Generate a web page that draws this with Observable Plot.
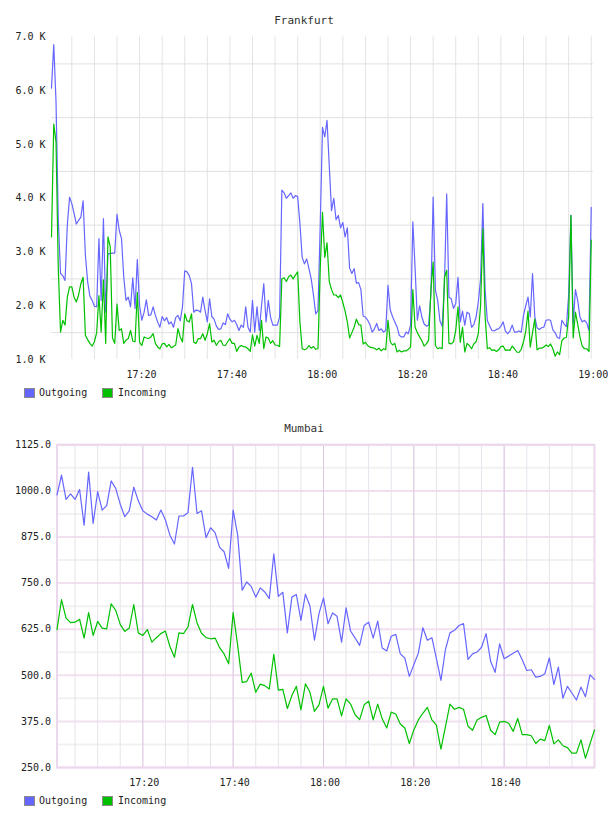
<!DOCTYPE html>
<html>
<head>
<meta charset="utf-8">
<script src="https://cdn.jsdelivr.net/npm/d3@7"></script>
<script src="https://cdn.jsdelivr.net/npm/@observablehq/plot@0.6"></script>
<style>
html, body { margin: 0; padding: 0; background: #fff; overflow: hidden; }
#page { position: relative; width: 608px; height: 816px; overflow: hidden; font-family: "DejaVu Sans Mono", monospace; }
.title { position: absolute; left: 0; width: 608px; text-align: center; font-size: 11px; line-height: 14px; color: #333; }
.chart { position: absolute; left: 0; }
.sw { position: absolute; width: 11px; height: 10px; box-sizing: border-box; border: 1px solid #8a8a8a; }
.lt { position: absolute; font-size: 10px; line-height: 12px; color: #222; }
</style>
</head>
<body>
<div id="page">
  <div class="title" style="top:14px">Frankfurt</div>
  <div class="chart" id="c1" style="top:30px"></div>
  <div id="leg1"></div>
  <div class="title" style="top:422px">Mumbai</div>
  <div class="chart" id="c2" style="top:436px"></div>
  <div id="leg2"></div>
</div>
<script>
// ---------- DATA ----------
const seriesNames = ["Outgoing", "Incoming"];
const seriesColors = ["#6666ff", "#00c000"];

// Frankfurt: samples every 30 s starting 17:00:30
const fraStart = [17, 0, 30];
const fraStepSeconds = 30;
const fraOut = [
6050,6860,5800,3600,2600,2560,2470,3500,4020,3900,
3720,3520,3590,3650,3950,2950,2450,2180,2100,1990,
1980,3250,2100,3620,1880,2970,2970,2980,2980,3700,
3400,3250,2530,2100,2160,1980,2520,1950,2860,2000,
1730,1880,2110,1820,1830,1980,1820,1700,1600,1800,
1720,1780,1660,1700,1600,1780,1820,1720,1980,2650,
2630,2560,2410,1880,1920,1910,1880,2160,1910,1700,
2130,1800,1750,1620,1560,1570,1680,1650,1850,1750,
1700,
1730,1650,1540,1640,1600,1980,1600,1510,2100,1510,
1980,1540,2000,2410,1700,2100,1790,1640,1640,1640,
1790,4150,4100,4000,4050,4100,4000,4050,4030,3530,
2900,2780,2870,2690,2500,2200,1850,1910,3500,5320,
5140,5450,4600,3770,4000,3600,3680,3450,3550,3280,
3450,2700,2600,2690,2420,2430,2300,1810,1790,1730,
1650,1510,1570,1670,1540,1570,1510,1540,2380,1920,
1800,1700,1610,1450,1420,1420,1510,1480,1640,
3560,2700,1730,2000,1790,1660,1620,1640,2200,4020,
2290,2100,1720,1620,2400,4080,2160,2130,1950,2040,
2530,1700,1900,1640,1880,1850,1600,1650,1790,2070,
2500,3900,2300,1720,1630,1540,1530,1560,1570,1620,
1700,1530,1480,1530,1640,1510,1510,1530,1510,1820,
2000,2160,1790,2600,1800,1590,1560,1590,1600,1730,
1740,1730,1550,1500,1410,1390,1730,1660,1610,2200,
3680,1670,2300,2100,1790,1700,1730,1680,1540,3830
];
const fraIn = [
3280,5380,5050,2700,1510,1730,1640,2160,2350,2350,
2160,2070,2200,2410,2530,1450,1370,1300,1250,1330,
1500,2190,1510,2480,1300,3280,3100,1400,1300,2030,
1540,1570,1300,1360,1390,1540,1340,1330,2250,1320,
1260,1420,1400,1390,1420,1480,1300,1234,1200,1290,
1300,1234,1280,1220,1240,1270,1574,1420,1326,1850,
1720,1700,1850,1320,1300,1390,1390,1480,1357,1480,
1667,1326,1357,1265,1330,1357,1265,1260,1330,1388,
1300,
1300,1150,1230,1260,1240,1234,1200,1150,1460,1250,
1450,1300,1730,1200,1420,1400,1300,1350,1270,1265,
1240,2500,2520,2450,2540,2570,2500,2570,2630,1700,
1200,1180,1200,1260,1210,1240,1190,1200,2700,3740,
2900,3170,2450,2300,2200,2200,2150,2200,2060,1900,
1700,1400,1500,1600,1750,1650,1640,1290,1320,1260,
1230,1220,1210,1180,1210,1160,1200,1180,1730,1330,
1270,1300,1140,1170,1140,1160,1160,1190,1230,
2300,1600,1500,1420,1350,1250,1290,1360,2300,2810,
1260,1200,1220,1200,2530,2660,1300,1290,1330,1540,
1980,1320,1600,1140,1300,1260,1200,1290,1330,1480,
2000,3430,1800,1200,1220,1170,1180,1150,1180,1240,
1250,1170,1180,1170,1250,1200,1140,1130,1190,1330,
1520,1900,1230,1500,1750,1180,1210,1210,1230,1270,
1240,1290,1200,1060,1140,1090,1350,1400,1410,1800,
3680,1400,1880,1660,1420,1250,1200,1200,1150,3220
];
const fraYTicks = [1000, 2000, 3000, 4000, 5000, 6000, 7000];
const fraYGrid = [1500, 2500, 3500, 4500, 5500, 6500];
const fraXTickLabels = ["17:20", "17:40", "18:00", "18:20", "18:40", "19:00"];

// Mumbai: one sample per minute starting 17:01
const mumStart = [17, 1, 0];
const mumStepSeconds = 60;
const mumOut = [
989,1043,977,992,977,1004,907,1051,912,998,
948,960,1027,1007,964,930,946,1010,973,946,
937,930,921,948,921,880,856,932,932,941,
1064,939,946,873,900,887,847,835,790,948,
880,731,753,741,712,737,726,708,829,714,
725,615,712,719,649,720,688,595,667,710,640,
669,660,590,683,620,601,581,635,644,601,
647,574,566,606,611,558,547,497,529,560,
629,595,602,545,486,570,615,622,635,640,
543,558,563,576,613,538,508,585,545,552,
560,567,542,513,515,495,497,504,547,475,
522,438,470,452,433,468,442,501,489
];
const mumIn = [
624,705,655,643,644,652,601,670,608,646,
628,626,694,676,638,619,628,692,615,608,
624,590,602,613,620,578,549,615,613,631,
692,642,614,602,599,601,575,558,531,670,
581,481,483,506,454,476,472,463,557,460,
462,410,445,470,406,477,454,402,420,470,411,
436,436,390,436,422,393,380,420,430,379,
422,382,357,400,395,368,357,315,352,379,
397,413,379,365,300,361,422,408,413,408,
362,351,379,386,391,351,339,373,375,370,
348,383,339,339,336,315,327,323,364,314,
325,309,304,289,289,325,275,314,352
];
const mumYTicks = [250, 375, 500, 625, 750, 875, 1000, 1125];
const mumYHalf = [312.5, 437.5, 562.5, 687.5, 812.5, 937.5, 1062.5];
const mumXTickLabels = ["17:20", "17:40", "18:00", "18:20", "18:40"];

// ---------- HELPERS ----------
const at = (h, m, s = 0) => new Date(2020, 0, 1, h, m, s);
const fromLabel = l => { const [h, m] = l.split(":").map(Number); return at(h, m); };
const fmt = d3.timeFormat("%H:%M");
function series(start, step, a, b) {
  const t0 = at(...start);
  return a.map((v, i) => ({ t: new Date(+t0 + i * step * 1000), out: v, inc: b[i] }));
}
function everyFive(from, to) {
  const r = []; for (let d = +from; d <= +to; d += 5 * 60000) r.push(new Date(d)); return r;
}
const font = { fontFamily: "'DejaVu Sans Mono', monospace", fontSize: "10px", color: "#222", background: "white", overflow: "visible" };

// ---------- FRANKFURT ----------
const fra = series(fraStart, fraStepSeconds, fraOut, fraIn);
const fraDomain = [at(17, 0, 30), at(19, 0, 30)];
const chart1 = Plot.plot({
  width: 608, height: 356,
  marginTop: 6.5, marginBottom: 27, marginLeft: 51, marginRight: 15,
  style: font,
  x: { type: "time", domain: fraDomain },
  y: { domain: [1000, 7000] },
  marks: [
    Plot.ruleX(everyFive(at(17, 5), at(19, 0)), { stroke: "#e3e3e3", strokeWidth: 1 }),
    Plot.ruleY(fraYGrid, { stroke: "#e0e0e0", strokeWidth: 1 }),
    Plot.axisY({ ticks: fraYTicks, tickSize: 0, tickPadding: 6, tickFormat: d => (d / 1000).toFixed(1) + " K", label: null }),
    Plot.axisX({ ticks: fraXTickLabels.map(fromLabel), tickSize: 0, tickPadding: 11.5, dx: 2, tickFormat: fmt, label: null }),
    Plot.line(fra, { x: "t", y: "out", stroke: seriesColors[0], strokeWidth: 1.2 }),
    Plot.line(fra, { x: "t", y: "inc", stroke: seriesColors[1], strokeWidth: 1.2 })
  ]
});
document.getElementById("c1").appendChild(chart1);

// ---------- MUMBAI ----------
const mum = series(mumStart, mumStepSeconds, mumOut, mumIn);
const mumDomain = [at(17, 1), at(19, 0)];
const chart2 = Plot.plot({
  width: 608, height: 358,
  marginTop: 8.3, marginBottom: 27, marginLeft: 56.5, marginRight: 14,
  style: font,
  x: { type: "time", domain: mumDomain },
  y: { domain: [250, 1125] },
  marks: [
    Plot.ruleY(mumYHalf, { stroke: "#f1f1f1", strokeWidth: 2 }),
    Plot.ruleY(mumYTicks, { stroke: "#f0e0f0", strokeWidth: 2 }),
    Plot.ruleX(everyFive(at(17, 5), at(18, 55)), { stroke: "#e9e1ec", strokeWidth: 1 }),
    Plot.ruleX(mumXTickLabels.map(fromLabel), { stroke: "#dfc6e3", strokeWidth: 1 }),
    Plot.frame({ stroke: "#ecd8ec", strokeWidth: 2 }),
    Plot.axisY({ ticks: mumYTicks, tickSize: 0, tickPadding: 6, tickFormat: d => d.toFixed(1), label: null }),
    Plot.axisX({ ticks: mumXTickLabels.map(fromLabel), tickSize: 0, tickPadding: 11, dx: 1.5, tickFormat: fmt, label: null }),
    Plot.line(mum, { x: "t", y: "out", stroke: seriesColors[0], strokeWidth: 1.2 }),
    Plot.line(mum, { x: "t", y: "inc", stroke: seriesColors[1], strokeWidth: 1.2 })
  ]
});
document.getElementById("c2").appendChild(chart2);

// ---------- LEGENDS ----------
function legend(id, top) {
  const swX = [24, 102], txX = [39, 118];
  seriesNames.forEach((name, i) => {
    const sw = document.createElement("div");
    sw.className = "sw";
    sw.style.left = swX[i] + "px"; sw.style.top = top + "px"; sw.style.background = seriesColors[i];
    const tx = document.createElement("div");
    tx.className = "lt";
    tx.style.left = txX[i] + "px"; tx.style.top = (top - 1) + "px";
    tx.textContent = name;
    document.getElementById("page").appendChild(sw);
    document.getElementById("page").appendChild(tx);
  });
}
legend("leg1", 388);
legend("leg2", 796);
</script>
</body>
</html>
